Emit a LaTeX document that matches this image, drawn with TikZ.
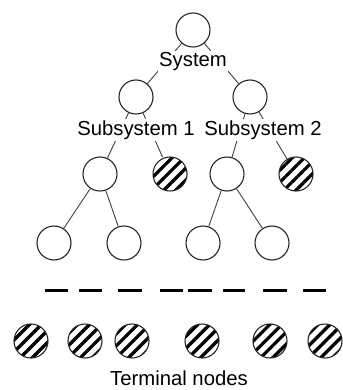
\documentclass[tikz,border=0pt]{standalone}
\usepackage{fontspec}
\setmainfont{Liberation Sans}
\usetikzlibrary{patterns.meta}

\begin{document}
\begin{tikzpicture}[
    blank/.style={draw=black!85, circle, line width=1.1pt, minimum size=34pt, inner sep=0pt},
    hatched/.style={blank, pattern={Lines[angle=45, distance=8.5pt, line width=3.3pt]}},
    caption/.style={fill=white, inner sep=1.5pt, font=\fontsize{20.3}{23}\selectfont},
    link/.style={draw=black!75, line width=0.9pt}]
    \useasboundingbox (0pt,0pt) rectangle (342pt,-390pt);

    \node[blank] at (193pt,-30pt) (sys) {};
    \node[blank, below of=sys, node distance=67pt, xshift=-57pt] (sub1) {};
    \node[blank, right of=sub1, node distance=114pt] (sub2) {};

    \node[blank, below of=sub1, node distance=77pt, xshift=-36pt] (s1a) {};
    \node[hatched, right of=s1a, node distance=70pt] (s1t) {};
    \node[blank, below of=sub2, node distance=77pt, xshift=-23pt] (s2a) {};
    \node[hatched, right of=s2a, node distance=69pt] (s2t) {};

    \node[blank, below of=s1a, node distance=69pt, xshift=-46pt] (l1) {};
    \node[blank, right of=l1, node distance=70pt] (l2) {};
    \node[blank, below of=s2a, node distance=69pt, xshift=-24pt] (r1) {};
    \node[blank, right of=r1, node distance=69pt] (r2) {};

    \draw[link] (sys) -- (sub1);
    \draw[link] (sys) -- (sub2);
    \draw[link] (sub1) -- (s1a);
    \draw[link] (sub1) -- (s1t);
    \draw[link] (sub2) -- (s2a);
    \draw[link] (sub2) -- (s2t);
    \draw[link] (s1a) -- (l1);
    \draw[link] (s1a) -- (l2);
    \draw[link] (s2a) -- (r1);
    \draw[link] (s2a) -- (r2);

    % labels sit on top of the links
    \node[caption, below of=sys, node distance=32pt] (sysl) {System};
    \node[caption, below of=sub1, node distance=33pt] (sub1l) {Subsystem 1};
    \node[caption, below of=sub2, node distance=33pt, xshift=13pt] (sub2l) {Subsystem 2};

    % omitted levels
    \foreach \a/\b in {45/68, 79/102, 118/142, 160/183, 188/212, 223/245, 263/287, 303/326}
        \draw[line width=3pt] (\a pt,-290pt) -- (\b pt,-290pt);

    \foreach \x [count=\i] in {31, 85, 132, 202, 270, 325}
        \node[hatched] at (\x pt,-341pt) (t\i) {};
    \node[caption, fill=none] at (179pt,-378pt) (terml) {Terminal nodes};
\end{tikzpicture}
\end{document}
